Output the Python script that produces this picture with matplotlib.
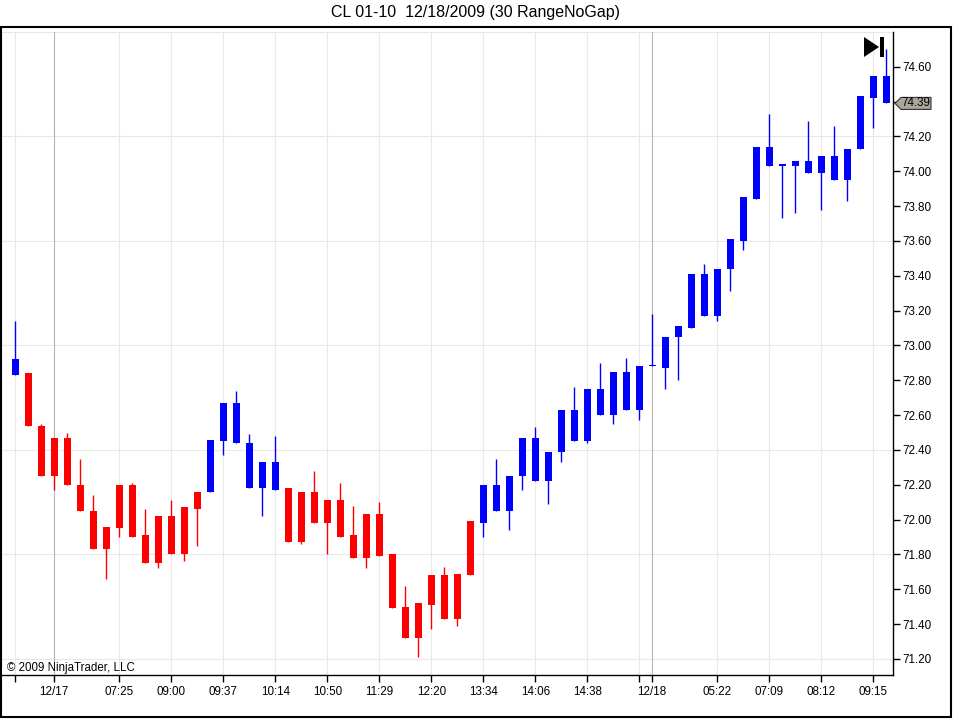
import numpy as np
import matplotlib
matplotlib.use('Agg')
import matplotlib.pyplot as plt
from matplotlib.patches import Polygon, Rectangle
from matplotlib.transforms import blended_transform_factory

# range bars, CL 01-10, 30 ticks each
opens = [72.83, 72.84, 72.54, 72.47, 72.47, 72.20, 72.05, 71.96, 72.20, 72.20,
         71.91, 72.02, 72.02, 72.07, 72.16, 72.16, 72.45, 72.44, 72.18, 72.18,
         72.17, 72.18, 72.16, 72.16, 72.11, 72.11, 71.91, 72.03, 72.03, 71.80,
         71.50, 71.52, 71.68, 71.68, 71.69, 71.99, 71.98, 72.05, 72.05, 72.25,
         72.22, 72.22, 72.39, 72.45, 72.45, 72.60, 72.60, 72.63, 72.63, 72.88,
         72.87, 73.05, 73.10, 73.17, 73.17, 73.44, 73.60, 73.84, 74.03, 74.03,
         74.03, 73.99, 73.99, 73.95, 73.95, 74.13, 74.42, 74.55]
highs = [73.14, 72.84, 72.55, 72.47, 72.50, 72.35, 72.14, 71.96, 72.20, 72.21,
         72.06, 72.02, 72.11, 72.07, 72.16, 72.46, 72.67, 72.74, 72.49, 72.33,
         72.48, 72.18, 72.16, 72.28, 72.11, 72.21, 72.08, 72.03, 72.10, 71.80,
         71.62, 71.52, 71.68, 71.73, 71.69, 71.99, 72.20, 72.35, 72.25, 72.47,
         72.53, 72.39, 72.63, 72.76, 72.75, 72.90, 72.85, 72.93, 72.88, 73.18,
         73.05, 73.11, 73.41, 73.47, 73.44, 73.61, 73.85, 74.14, 74.33, 74.04,
         74.06, 74.29, 74.09, 74.26, 74.13, 74.43, 74.55, 74.70]
lows = [72.83, 72.54, 72.25, 72.17, 72.20, 72.05, 71.83, 71.66, 71.90, 71.90,
        71.75, 71.72, 71.80, 71.76, 71.85, 72.16, 72.37, 72.44, 72.18, 72.02,
        72.17, 71.87, 71.86, 71.98, 71.80, 71.90, 71.78, 71.72, 71.79, 71.49,
        71.32, 71.21, 71.37, 71.43, 71.39, 71.68, 71.90, 72.05, 71.94, 72.17,
        72.22, 72.09, 72.33, 72.45, 72.44, 72.60, 72.55, 72.63, 72.57, 72.88,
        72.75, 72.80, 73.10, 73.17, 73.14, 73.31, 73.55, 73.84, 74.03, 73.73,
        73.76, 73.99, 73.78, 73.95, 73.83, 74.13, 74.25, 74.39]
closes = [72.92, 72.54, 72.25, 72.25, 72.20, 72.05, 71.83, 71.83, 71.95, 71.90,
          71.75, 71.75, 71.80, 71.80, 72.06, 72.46, 72.67, 72.67, 72.44, 72.33,
          72.33, 71.87, 71.87, 71.98, 71.98, 71.90, 71.78, 71.78, 71.79, 71.49,
          71.32, 71.32, 71.51, 71.43, 71.43, 71.68, 72.20, 72.20, 72.25, 72.47,
          72.47, 72.39, 72.63, 72.63, 72.75, 72.75, 72.85, 72.85, 72.88, 72.88,
          73.05, 73.11, 73.41, 73.41, 73.44, 73.61, 73.85, 74.14, 74.14, 74.04,
          74.06, 74.06, 74.09, 74.09, 74.13, 74.43, 74.55, 74.39]
# 1 = up trend (blue), -1 = down trend (red)
trend = [1] + [-1] * 14 + [1] * 6 + [-1] * 15 + [1] * 32

tick_pos = [0, 3, 8, 12, 16, 20, 24, 28, 32, 36, 40, 44, 48, 49, 54, 58, 62, 66]
tick_labels = ['', '12/17', '07:25', '09:00', '09:37', '10:14', '10:50', '11:29',
               '12:20', '13:34', '14:06', '14:38', '', '12/18', '05:22', '07:09',
               '08:12', '09:15']
session_pos = [3, 49]
price_ticks = [71.20, 71.40, 71.60, 71.80, 72.00, 72.20, 72.40, 72.60, 72.80,
               73.00, 73.20, 73.40, 73.60, 73.80, 74.00, 74.20, 74.40, 74.60]
grid_prices = [71.20, 71.80, 72.40, 73.00, 73.60, 74.20, 74.80]
last_price = 74.39

W, H = 955, 719
plt.rcParams['font.family'] = ['Liberation Sans', 'DejaVu Sans']
fig = plt.figure(figsize=(W / 100, H / 100), dpi=100)
fig.patch.set_facecolor('white')

left, right, top, bottom = 2, 893, 32, 675
ax = fig.add_axes([left / W, 1 - bottom / H, (right - left) / W, (bottom - top) / H])
ax.set_xlim(-1.02, 67.52)
ax.set_ylim(71.108, 74.80)

# grid
for g in grid_prices:
    ax.axhline(g, color='#ebe8e4', lw=0.8, zorder=1)
for t in tick_pos:
    c = '#b4b4b4' if t in session_pos else '#ebe8e4'
    ax.axvline(t, color=c, lw=0.8, zorder=1)

# candles
xs = np.arange(len(opens))
o = np.array(opens)
c = np.array(closes)
colors = ['#0000ff' if t > 0 else '#ff0000' for t in trend]
ax.vlines(xs, lows, highs, colors=colors, linewidth=1.0, zorder=3)
body_lo = np.minimum(o, c)
body_h = np.maximum(np.abs(c - o), 0.008)
ax.bar(xs, body_h, bottom=body_lo, width=0.54, color=colors, linewidth=0, zorder=4)

# axes
for s in ['left', 'top']:
    ax.spines[s].set_visible(False)
for s in ['right', 'bottom']:
    ax.spines[s].set_linewidth(1.0)
ax.yaxis.tick_right()
ax.set_yticks(price_ticks)
# the last price tag covers the label next to it
ax.set_yticklabels(['' if abs(p - last_price) < 0.05 else '%.2f' % p for p in price_ticks])
ax.set_xticks(tick_pos)
ax.set_xticklabels(tick_labels)
ax.tick_params(axis='both', direction='out', length=5, width=1, labelsize=8.4, pad=2)
ax.tick_params(axis='x', pad=3)

ax.text(5 / (right - left), 0.011, '\u00a9 2009 NinjaTrader, LLC', transform=ax.transAxes,
        fontsize=8.3, va='center', ha='left')

# last price tag
tr = blended_transform_factory(ax.transAxes, ax.transData)
dpp = (74.80 - 71.108) / (bottom - top)
hh = 6 * dpp
fx = lambda px: (px - left) / (right - left)
tag = Polygon([(fx(895), last_price), (fx(901), last_price + hh), (fx(931), last_price + hh),
               (fx(931), last_price - hh), (fx(901), last_price - hh)], closed=True,
              facecolor='#aaa69c', edgecolor='#333333', lw=0.8, transform=tr, clip_on=False,
              zorder=6)
ax.add_patch(tag)
ax.text(fx(916), last_price, '%.2f' % last_price, transform=tr, fontsize=8.4,
        ha='center', va='center', clip_on=False, zorder=7)

# figure decorations
pf = lambda x, y: (x / W, 1 - y / H)
fig.patches.append(Polygon([pf(864, 37), pf(864, 57), pf(879, 47)], closed=True,
                           facecolor='black', edgecolor='none', transform=fig.transFigure, figure=fig))
fig.patches.append(Rectangle(pf(880, 57), 4 / W, 20 / H, facecolor='black', edgecolor='none',
                             transform=fig.transFigure, figure=fig))
fig.patches.append(Rectangle(pf(1, 717), 950 / W, 690 / H, fill=False, edgecolor='black', lw=1.5,
                             transform=fig.transFigure, figure=fig))

fig.text(475 / W, 1 - 12 / H, 'CL 01-10  12/18/2009 (30 RangeNoGap)', ha='center', va='center',
         fontsize=11.5)

fig.savefig('out.png', dpi=100, facecolor='white')
